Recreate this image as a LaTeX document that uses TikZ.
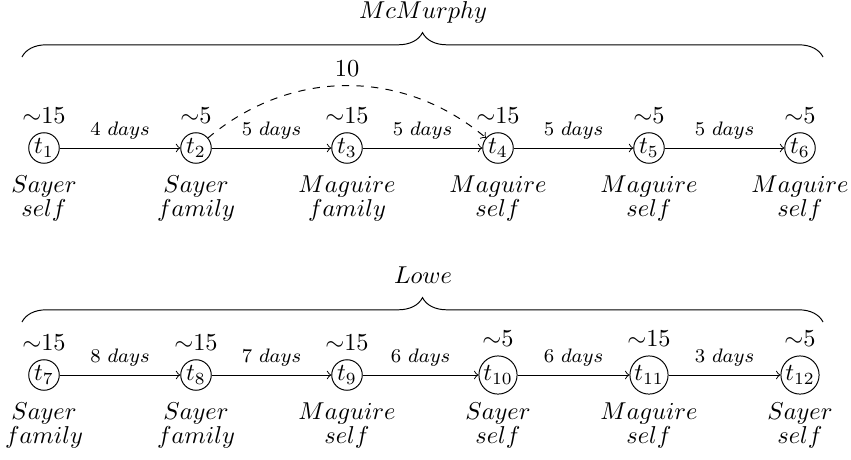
\documentclass[tikz,border=0pt]{standalone}
\usetikzlibrary{decorations.pathreplacing}
\begin{document}
\begin{tikzpicture}[x=0.41pt,y=-0.41pt,
  tnode/.style={circle,draw,inner sep=0.5pt},
  lab/.style={anchor=base,inner sep=0pt},
  days/.style={midway,above,font=\footnotesize},
  flow/.style={->},
  grp/.style={decorate,decoration={brace,amplitude=10pt}}]
\useasboundingbox (0,0) rectangle (851,459);
% row 1
\node[tnode,label={above:$\sim$15}] (t1) at (44,148) {$t_1$};
\node[tnode,label={above:$\sim$5}]  (t2) at (196,148) {$t_2$};
\node[tnode,label={above:$\sim$15}] (t3) at (347,148) {$t_3$};
\node[tnode,label={above:$\sim$15}] (t4) at (498,148) {$t_4$};
\node[tnode,label={above:$\sim$5}]  (t5) at (649,148) {$t_5$};
\node[tnode,label={above:$\sim$5}]  (t6) at (800,148) {$t_6$};
\draw[flow] (t1) -- node[days]{$4\ days$} (t2);
\draw[flow] (t2) -- node[days]{$5\ days$} (t3);
\draw[flow] (t3) -- node[days]{$5\ days$} (t4);
\draw[flow] (t4) -- node[days]{$5\ days$} (t5);
\draw[flow] (t5) -- node[days]{$5\ days$} (t6);
\draw[flow,dashed] (t2) to[bend left=40] node[midway,above] (ten) {10} (t4);
\node[lab] (a1) at (44,192) {$Sayer$};
\node[lab] (b1) at (44,216) {$self$};
\node[lab] (a2) at (196,192) {$Sayer$};
\node[lab] (b2) at (196,216) {$family$};
\node[lab] (a3) at (347,192) {$Maguire$};
\node[lab] (b3) at (347,216) {$family$};
\node[lab] (a4) at (498,192) {$Maguire$};
\node[lab] (b4) at (498,216) {$self$};
\node[lab] (a5) at (649,192) {$Maguire$};
\node[lab] (b5) at (649,216) {$self$};
\node[lab] (a6) at (800,192) {$Maguire$};
\node[lab] (b6) at (800,216) {$self$};
\coordinate (g1l) at (22,57);
\coordinate (g1r) at (823,57);
\draw[grp] (g1l) -- (g1r);
\node (mc) at (423,12) {$McMurphy$};
% row 2
\node[tnode,label={above:$\sim$15}] (t7)  at (44,375) {$t_7$};
\node[tnode,label={above:$\sim$15}] (t8)  at (196,375) {$t_8$};
\node[tnode,label={above:$\sim$15}] (t9)  at (347,375) {$t_9$};
\node[tnode,label={above:$\sim$5}]  (t10) at (498,375) {$t_{10}$};
\node[tnode,label={above:$\sim$15}] (t11) at (649,375) {$t_{11}$};
\node[tnode,label={above:$\sim$5}]  (t12) at (800,375) {$t_{12}$};
\draw[flow] (t7) -- node[days]{$8\ days$} (t8);
\draw[flow] (t8) -- node[days]{$7\ days$} (t9);
\draw[flow] (t9) -- node[days]{$6\ days$} (t10);
\draw[flow] (t10) -- node[days]{$6\ days$} (t11);
\draw[flow] (t11) -- node[days]{$3\ days$} (t12);
\node[lab] (a7) at (44,419) {$Sayer$};
\node[lab] (b7) at (44,443) {$family$};
\node[lab] (a8) at (196,419) {$Sayer$};
\node[lab] (b8) at (196,443) {$family$};
\node[lab] (a9) at (347,419) {$Maguire$};
\node[lab] (b9) at (347,443) {$self$};
\node[lab] (a10) at (498,419) {$Sayer$};
\node[lab] (b10) at (498,443) {$self$};
\node[lab] (a11) at (649,419) {$Maguire$};
\node[lab] (b11) at (649,443) {$self$};
\node[lab] (a12) at (800,419) {$Sayer$};
\node[lab] (b12) at (800,443) {$self$};
\coordinate (g2l) at (22,322);
\coordinate (g2r) at (823,322);
\draw[grp] (g2l) -- (g2r);
\node (lw) at (423,275) {$Lowe$};
\end{tikzpicture}
\end{document}
